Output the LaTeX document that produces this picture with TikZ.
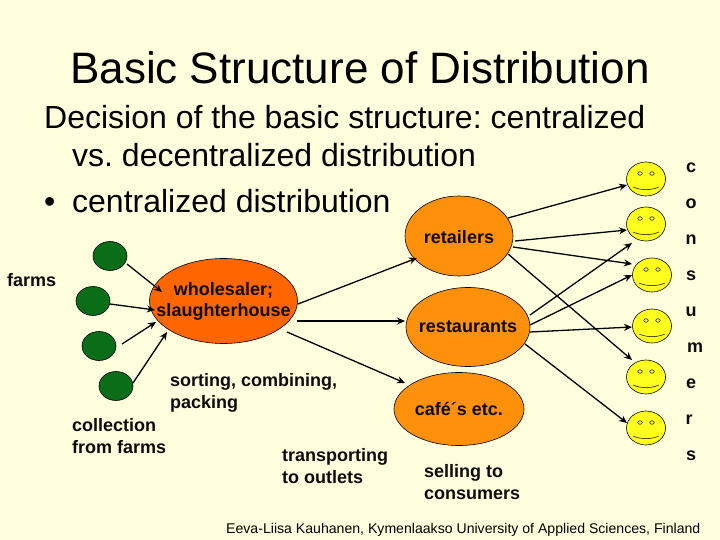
\documentclass[tikz,border=0pt]{standalone}
\usepackage{fontspec}
\setmainfont{Liberation Sans}
\usetikzlibrary{shapes.geometric,arrows.meta}
\frenchspacing
\definecolor{bgc}{RGB}{255,255,221}
\definecolor{farmc}{RGB}{10,110,25}
\definecolor{wholec}{RGB}{255,102,0}
\definecolor{outc}{RGB}{255,145,10}
\definecolor{facec}{RGB}{255,255,30}
\definecolor{inkc}{RGB}{15,10,10}
\tikzset{
  farm/.style={ellipse,draw=black,line width=.6pt,fill=farmc,minimum width=34pt,minimum height=29pt,inner sep=0pt},
  whole/.style={ellipse,draw=black,line width=.6pt,fill=wholec,minimum width=148pt,minimum height=85pt,inner sep=0pt},
  outlet/.style={ellipse,draw=black,line width=.6pt,fill=outc,inner sep=0pt},
  face/.style={ellipse,draw=black,line width=.6pt,fill=facec,minimum width=39pt,minimum height=34pt,inner sep=0pt},
  eye/.style={ellipse,draw=black,line width=.5pt,fill=facec,minimum width=4.5pt,minimum height=3.5pt,inner sep=0pt},
  big/.style={anchor=base west,inner sep=0pt,text=black},
  lab/.style={font=\fontsize{18}{21.5}\selectfont\bfseries,text=inkc,align=left,anchor=base west,inner sep=0pt},
  ctr/.style={font=\fontsize{18}{21.5}\selectfont\bfseries,text=inkc,align=center,inner sep=0pt},
  letter/.style={font=\fontsize{18}{21}\selectfont\bfseries,text=inkc,inner sep=0pt},
  conn/.style={line width=1.3pt,-{Stealth[length=8pt,width=7pt]}},
}
\newcommand{\smiley}[3]{%
  \node[face] (#1) at (#2,#3) {};
  \node[eye] (#1l) at (#2-6,#3-5.5) {};
  \node[eye] (#1r) at (#2+6,#3-5.5) {};
  \draw[line width=.5pt] (#2-13,#3+8) .. controls (#2-5,#3+11.5) and (#2+5,#3+11.5) .. (#2+13,#3+8);
}
\newcommand{\fs}[1]{\fontsize{#1}{#1}\selectfont}
\begin{document}
\begin{tikzpicture}[x=1pt,y=-1pt]
\useasboundingbox (0,0) rectangle (720,540);
\fill[bgc] (0,0) rectangle (720,540);
\node[big,font=\fs{44}] (title) at (70,84) {Basic Structure of Distribution};
\node[big,font=\fs{32}] (l1) at (44,129) {Decision of the basic structure: centralized};
\node[big,font=\fs{32}] (l2) at (72,167) {vs. decentralized distribution};
\node[big,font=\fs{32}] (l3b) at (44,213) {•};
\node[big,font=\fs{32}] (l3) at (72,213) {centralized distribution};
% nodes
\node[farm] (f1) at (110,256) {};
\node[farm] (f2) at (93,301) {};
\node[farm] (f3) at (99,346) {};
\node[farm] (f4) at (116,386) {};
\node[whole] (w) at (223.5,301) {};
\node[outlet,minimum width=108pt,minimum height=80pt] (ret) at (459,236) {};
\node[outlet,minimum width=124pt,minimum height=79pt] (res) at (468,327) {};
\node[outlet,minimum width=130pt,minimum height=73pt] (caf) at (459,409) {};
\smiley{s1}{646}{179}
\smiley{s2}{646}{224}
\smiley{s3}{652}{275}
\smiley{s4}{652}{326}
\smiley{s5}{646}{377}
\smiley{s6}{646}{428}
% connectors
\draw[conn] ([shift={(17,8)}]f1.center) -- ([shift={(-61.5,-9)}]w.center);
\draw[conn] ([shift={(17,3)}]f2.center) -- ([shift={(-68.5,9)}]w.center);
\draw[conn] ([shift={(23,-2)}]f3.center) -- ([shift={(-67.5,21)}]w.center);
\draw[conn] ([shift={(17,-3)}]f4.center) -- ([shift={(-56.5,31)}]w.center);
\draw[conn] ([shift={(74.5,3)}]w.center) -- ([shift={(-42,22)}]ret.center);
\draw[conn] ([shift={(73.5,20)}]w.center) -- ([shift={(-63,-6)}]res.center);
\draw[conn] ([shift={(63.5,31)}]w.center) -- ([shift={(-54,-26)}]caf.center);
\draw[conn] ([shift={(49,-18)}]ret.center) -- ([shift={(-19,6)}]s1.center);
\draw[conn] ([shift={(56,5)}]ret.center) -- ([shift={(-19,6)}]s2.center);
\draw[conn] ([shift={(54,11)}]ret.center) -- ([shift={(-20,-11)}]s3.center);
\draw[conn] ([shift={(49,18)}]ret.center) -- ([shift={(-14,-17)}]s5.center);
\draw[conn] ([shift={(62,-12)}]res.center) -- ([shift={(-14,19)}]s2.center);
\draw[conn] ([shift={(62,-2)}]res.center) -- ([shift={(-20,0)}]s3.center);
\draw[conn] ([shift={(62,5)}]res.center) -- ([shift={(-20,1)}]s4.center);
\draw[conn] ([shift={(57,17)}]res.center) -- ([shift={(-19,-5)}]s6.center);
% labels
\node[ctr] (tw) at (223.5,301.5) {wholesaler;\\slaughterhouse};
\node[ctr] (tr) at (459,237) {retailers};
\node[ctr] (tz) at (468,327) {restaurants};
\node[ctr] (tc) at (459,409) {café´s etc.};
\node[lab] (tf) at (7,286) {farms};
\node[lab] (ts) at (170,408) {sorting, combining,\\packing};
\node[lab] (tcf) at (72,453) {collection\\from farms};
\node[lab] (tt) at (282,483) {transporting\\to outlets};
\node[lab] (tsc) at (424,499) {selling to\\consumers};
\node[letter] (c1) at (691,168) {c};
\node[letter] (c2) at (691,204) {o};
\node[letter] (c3) at (691,240) {n};
\node[letter] (c4) at (691,276) {s};
\node[letter] (c5) at (691,312) {u};
\node[letter] (c6) at (695,348) {m};
\node[letter] (c7) at (691,384) {e};
\node[letter] (c8) at (689,420) {r};
\node[letter] (c9) at (691,456) {s};
\node[big,font=\fs{14.1}] (cr) at (226,533) {Eeva-Liisa Kauhanen, Kymenlaakso University of Applied Sciences, Finland};
\end{tikzpicture}
\end{document}
